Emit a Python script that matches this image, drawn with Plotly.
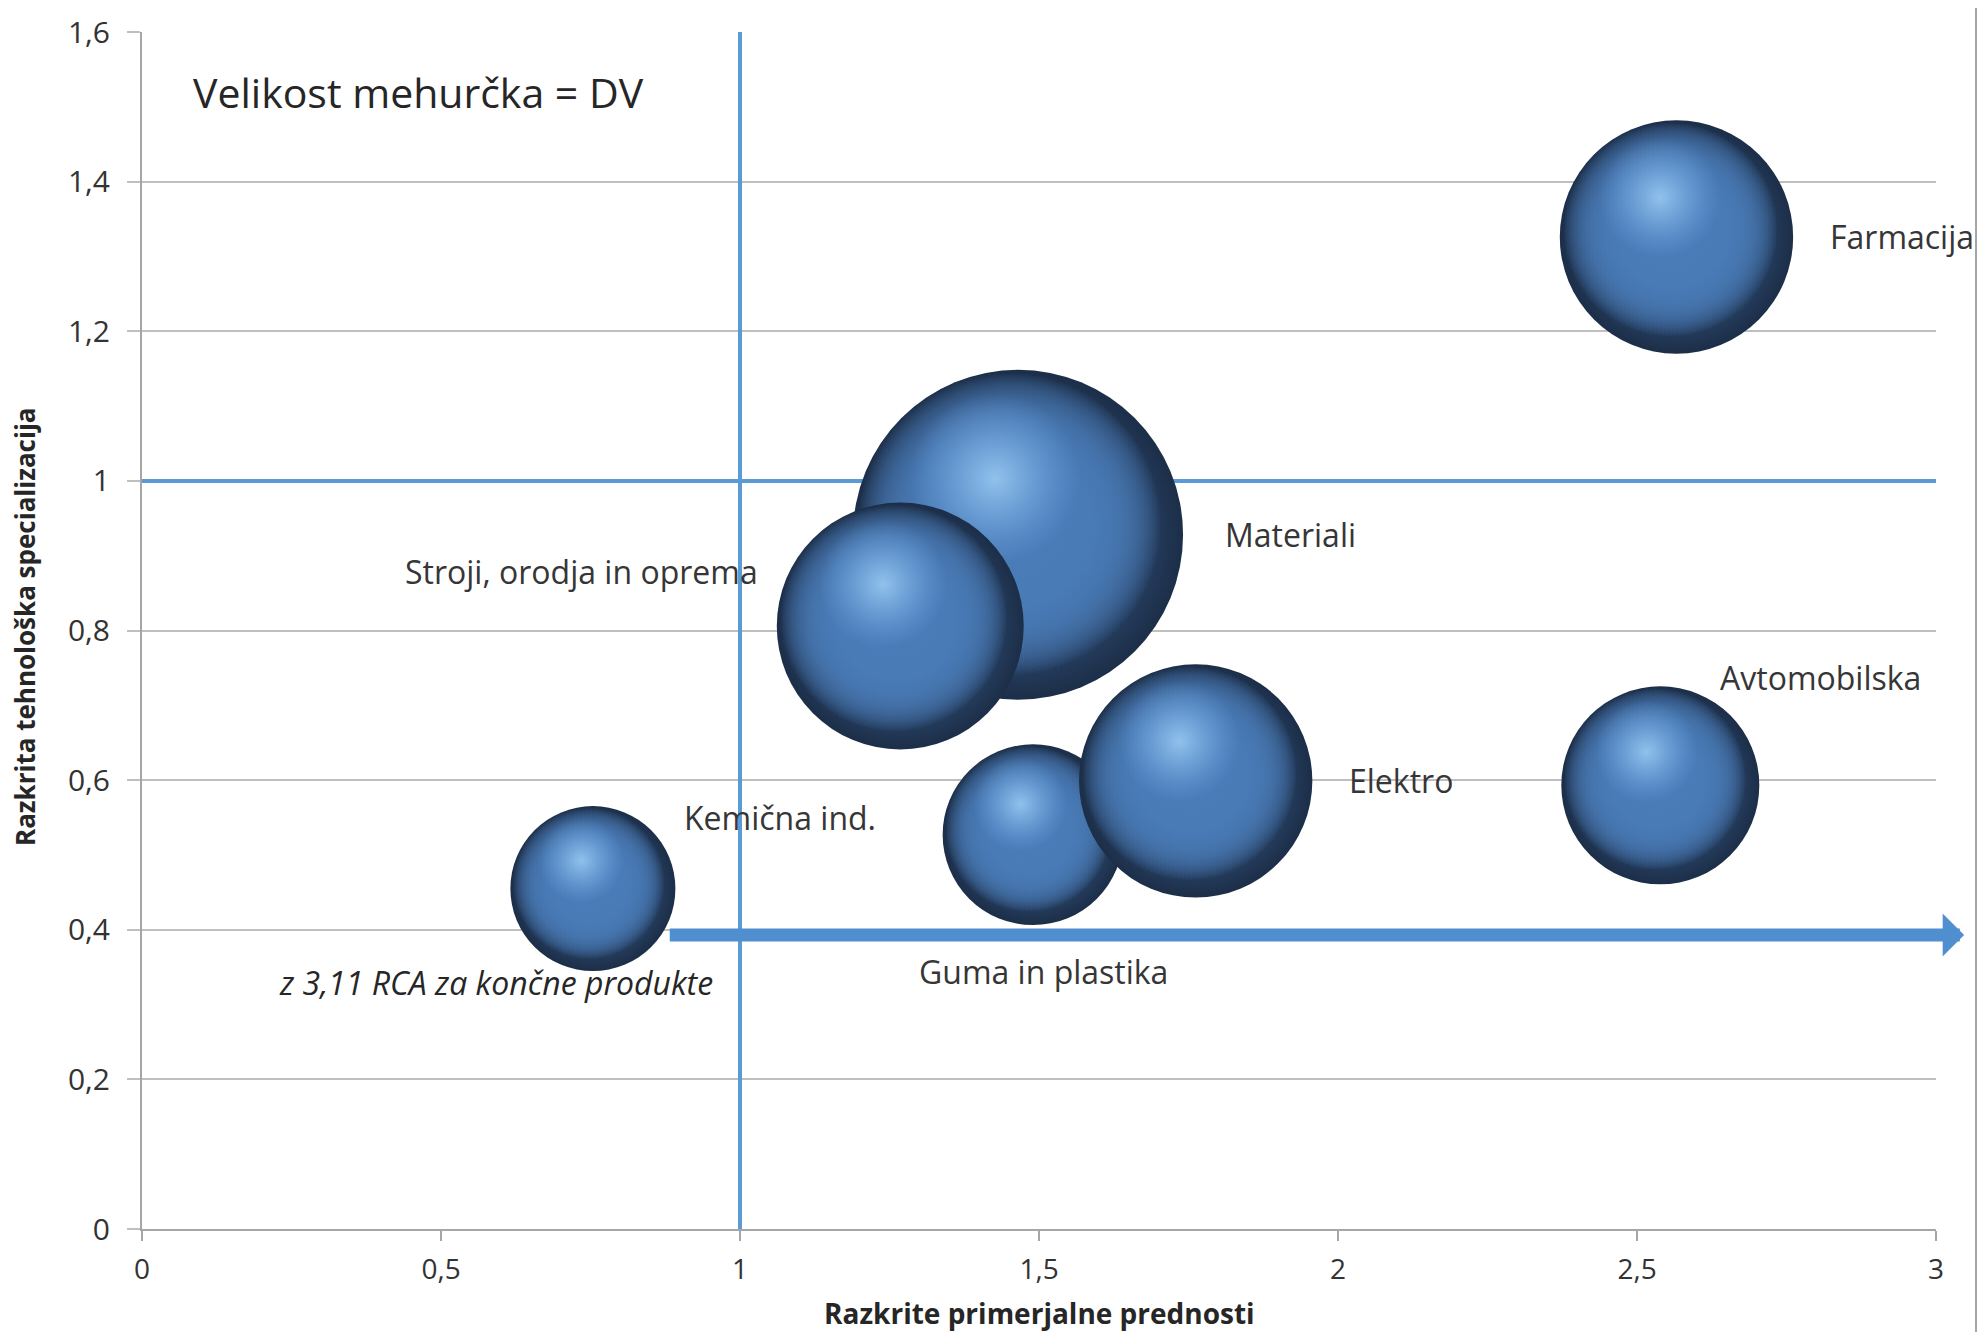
import plotly.graph_objects as go

# ---------------- data ----------------
sectors = ["Kemična ind.", "Materiali", "Stroji, orodja in oprema",
           "Guma in plastika", "Elektro", "Avtomobilska", "Farmacija"]
rca = [0.754, 1.465, 1.268, 1.49, 1.762, 2.539, 2.566]      # Razkrite primerjalne prednosti
rts = [0.455, 0.928, 0.806, 0.527, 0.599, 0.593, 1.326]     # Razkrita tehnološka specializacija
dv = [25, 100, 56, 30, 50, 36, 50]                          # velikost mehurčka = DV (relativno)

x_tickvals = [0, 0.5, 1, 1.5, 2, 2.5, 3]
x_ticktext = ["0", "0,5", "1", "1,5", "2", "2,5", "3"]
y_tickvals = [0, 0.2, 0.4, 0.6, 0.8, 1.0, 1.2, 1.4, 1.6]
y_ticktext = ["0", "0,2", "0,4", "0,6", "0,8", "1", "1,2", "1,4", "1,6"]

ref_x = 1.0          # vertical reference line
ref_y = 1.0          # horizontal reference line
arrow_y = 0.393      # arrow for Kemična ind. (3,11 RCA za končne produkte)
arrow_x0 = 0.88
arrow_x1 = 3.047
note_text = "z 3,11 RCA za končne produkte"
size_note = "Velikost mehurčka = DV"
x_title = "Razkrite primerjalne prednosti"
y_title = "Razkrita tehnološka specializacija"

# ---------------- layout geometry ----------------
# (page body has an 8px margin, so the figure is a bit smaller than the window)
W, H = 1970, 1324
ML, MR, MT, MB = 134, 42, 24, 103
XR = [0, 3]
YR = [0, 1.6]
PW, PH = W - ML - MR, H - MT - MB
px_per_x = PW / (XR[1] - XR[0])
px_per_y = PH / (YR[1] - YR[0])
MAX_D = 330  # diameter (px) of the largest bubble
sizeref = 2.0 * max(dv) / MAX_D ** 2
diam = [(2.0 * v / sizeref) ** 0.5 for v in dv]

BLUE_LINE = "#5b9bd5"
FONT = "Open Sans"
LABEL_FONT = dict(family=FONT, size=32, color="#363636")

fig = go.Figure()

# reference lines
fig.add_trace(go.Scatter(x=[ref_x, ref_x], y=YR, mode="lines",
                         line=dict(color=BLUE_LINE, width=4), hoverinfo="skip", showlegend=False))
fig.add_trace(go.Scatter(x=XR, y=[ref_y, ref_y], mode="lines",
                         line=dict(color=BLUE_LINE, width=4), hoverinfo="skip", showlegend=False))

# bubbles: spheres built from layered radial gradients
# (plotly radial gradient: gradient.color = centre, marker.color = edge)
N_BODY = 8
for i in range(len(sectors)):
    d = diam[i]
    # base disk: blue centre, dark rim
    fig.add_trace(go.Scatter(
        x=[rca[i]], y=[rts[i]], mode="markers", name=sectors[i], showlegend=False,
        marker=dict(size=[dv[i]], sizemode="area", sizeref=sizeref, color="#1c2e48",
                    gradient=dict(type="radial", color="#4677b2"),
                    line=dict(width=0), opacity=1),
        hovertemplate=sectors[i] + "<br>RCA: %{x}<br>RTS: %{y}<extra></extra>"))
    # body colour, shifted towards upper-left (stacked for a flatter profile)
    bx = rca[i] - 0.026 * d / px_per_x
    by = rts[i] + 0.032 * d / px_per_y
    fig.add_trace(go.Scatter(
        x=[bx] * N_BODY, y=[by] * N_BODY, mode="markers",
        showlegend=False, hoverinfo="skip",
        marker=dict(size=[d * 0.92] * N_BODY, sizemode="diameter", color="rgba(74,124,184,0)",
                    gradient=dict(type="radial", color="rgba(74,124,184,1)"),
                    line=dict(width=0))))
    # specular highlight
    hx = rca[i] - 0.07 * d / px_per_x
    hy = rts[i] + 0.17 * d / px_per_y
    fig.add_trace(go.Scatter(
        x=[hx, hx], y=[hy, hy], mode="markers",
        showlegend=False, hoverinfo="skip",
        marker=dict(size=[d * 0.52] * 2, sizemode="diameter", color="rgba(110,165,228,0)",
                    gradient=dict(type="radial", color="rgba(170,218,255,0.7)"),
                    line=dict(width=0))))

# label offsets (px) relative to bubble centres
lab_dx = [89, 205, -140, 10, 151, 58, 152]
lab_dy = [71, 0, 55, -137, 0, 108, 0]
lab_anchor = ["left", "left", "right", "center", "left", "left", "left"]

annotations = []
for i in range(len(sectors)):
    annotations.append(dict(x=rca[i], y=rts[i], xref="x", yref="y", text=sectors[i],
                            showarrow=False, xanchor=lab_anchor[i], yanchor="middle",
                            xshift=lab_dx[i], yshift=lab_dy[i], font=LABEL_FONT))

annotations.append(dict(x=rca[0], y=rts[0], xref="x", yref="y", text="<i>" + note_text + "</i>",
                        showarrow=False, xanchor="right", yanchor="middle",
                        xshift=122, yshift=-94, font=dict(family=FONT, size=32, color="#262626")))
annotations.append(dict(x=0.0, y=1.6, xref="x", yref="y", text=size_note, showarrow=False,
                        xanchor="left", yanchor="middle", xshift=49, yshift=-60,
                        font=dict(family=FONT, size=41, color="#262626")))
# axis titles
annotations.append(dict(x=0.5, y=-84 / PH, xref="paper", yref="paper",
                        text="<b>" + x_title + "</b>", showarrow=False,
                        xanchor="center", yanchor="middle",
                        font=dict(family=FONT, size=28, color="#262626")))
annotations.append(dict(x=-(ML - 17) / PW, y=602 / PH, xref="paper", yref="paper",
                        text="<b>" + y_title + "</b>", showarrow=False, textangle=-90,
                        xanchor="center", yanchor="middle",
                        font=dict(family=FONT, size=26, color="#262626")))
# arrow
annotations.append(dict(x=arrow_x1, y=arrow_y, ax=arrow_x0, ay=arrow_y, xref="x", yref="y",
                        axref="x", ayref="y", text="", showarrow=True, arrowhead=1,
                        arrowsize=0.55, arrowwidth=13, arrowcolor="#4f8fd0", standoff=0))

fig.update_layout(
    width=W, height=H, margin=dict(l=ML, r=MR, t=MT, b=MB),
    paper_bgcolor="white", plot_bgcolor="white",
    showlegend=False, annotations=annotations,
    xaxis=dict(range=XR, tickvals=x_tickvals, ticktext=x_ticktext, showgrid=False,
               zeroline=False, showline=True, linecolor="#a6a6a6", linewidth=2,
               ticks="outside", ticklen=10, tickcolor="#a6a6a6", tickwidth=2,
               tickfont=dict(family=FONT, size=28, color="#333333"),
               ticklabelstandoff=4, automargin=False),
    yaxis=dict(range=YR, tickvals=y_tickvals, ticktext=y_ticktext, showgrid=True,
               gridcolor="#bfbfbf", gridwidth=2, zeroline=False, showline=True,
               linecolor="#a6a6a6", linewidth=2, ticks="outside", ticklen=13,
               tickcolor="#bfbfbf", tickwidth=2,
               tickfont=dict(family=FONT, size=30, color="#333333"),
               ticklabelstandoff=11, automargin=False),
    shapes=[dict(type="line", xref="paper", yref="paper", x0=(W - 2 - ML) / PW, x1=(W - 2 - ML) / PW,
                 y0=-MB / PH, y1=1 + MT / PH, line=dict(color="#a6a6a6", width=2))],
)

fig.write_html("out.html")
